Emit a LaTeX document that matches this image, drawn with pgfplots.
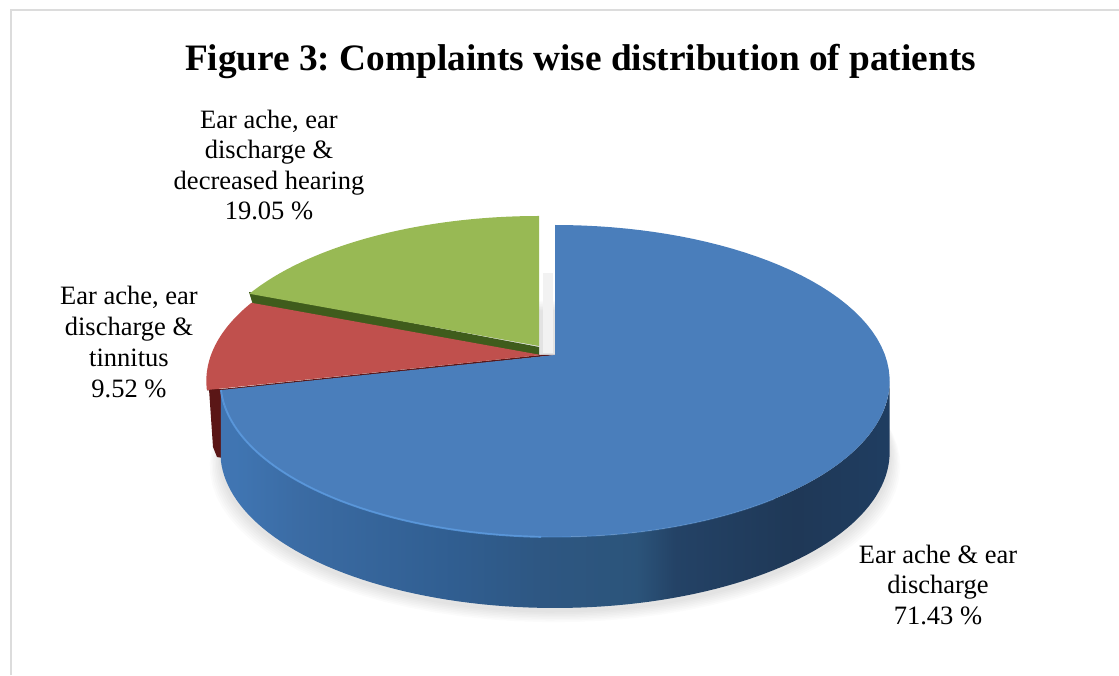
\documentclass[border=0pt]{standalone}
\usepackage{pgfplots}
\pgfplotsset{compat=1.18}
\usepackage{fontspec}
\setmainfont{Liberation Serif}

% Shares of the three complaint groups, in per cent
\def\shareBlue{71.43}
\def\shareRed{9.52}
\def\shareGreen{19.05}

% Slice boundaries, clockwise from twelve o'clock
\pgfmathsetmacro\angA{90}
\pgfmathsetmacro\angB{\angA-3.6*\shareBlue}
\pgfmathsetmacro\angC{\angB-3.6*\shareRed}
\pgfmathsetmacro\angD{\angC-3.6*\shareGreen}

\def\depth{71}
\definecolor{topblue}{HTML}{4A7EBB}
\definecolor{topred}{HTML}{C0504D}
\definecolor{topgreen}{HTML}{98B954}
\definecolor{wallgreen}{HTML}{3F5C1C}
\definecolor{wallred}{HTML}{5A1616}
\definecolor{rimblue}{HTML}{5B9ADF}
\definecolor{framegray}{HTML}{DCDCDC}

% Side of the pie, lit from the left; the path's width spans 25bp to 75bp
\pgfdeclarehorizontalshading{sidewall}{100bp}{
  rgb(0bp)=(0.25,0.46,0.70);
  rgb(26bp)=(0.25,0.46,0.70);
  rgb(31bp)=(0.23,0.42,0.64);
  rgb(42bp)=(0.19,0.37,0.57);
  rgb(49bp)=(0.18,0.34,0.51);
  rgb(56bp)=(0.17,0.33,0.48);
  rgb(59bp)=(0.14,0.26,0.40);
  rgb(68bp)=(0.12,0.22,0.34);
  rgb(75bp)=(0.12,0.24,0.38);
  rgb(100bp)=(0.12,0.24,0.38)
}

% Perspective view of the unit circle: projected x and y about the pie's centre
\pgfplotsset{
  /pgf/declare function={
    px(\a)=330*cos(\a)/(1+sin(\a)/6);
    py(\a)=151.67*sin(\a)/(1+sin(\a)/6);
  }
}

% Top face of a slice: colour, start angle, end angle, shift x, shift y
\newcommand\pieface[5]{
  \addplot[draw=none, fill=#1, no marks, domain=#2:#3, samples=90, variable=\a]
    ({555+#4+px(\a)},{320+#5+py(\a)}) -- (axis cs:{555+#4},{320+#5}) -- cycle;
}
% Outer wall of a slice: drawing options, start angle, end angle, shift x, shift y
\newcommand\piewall[5]{
  \addplot[#1, no marks, domain=0:2, samples=181, variable=\t]
    ({555+#4+px(\t<=1 ? #2+(#3-#2)*\t : #3+(#2-#3)*(\t-1))},
     {320+#5+py(\t<=1 ? #2+(#3-#2)*\t : #3+(#2-#3)*(\t-1))-(\t<=1 ? 0 : \depth)}) -- cycle;
}

\begin{document}
\begin{tikzpicture}
\path[use as bounding box] (0,0) rectangle (1119pt,675pt);
\begin{axis}[
  hide axis, scale only axis, width=1119pt, height=675pt,
  xmin=0, xmax=1119, ymin=0, ymax=675, clip=false,
]
  % Outer frame: only its top and left edges are visible
  \addplot[framegray, line width=2pt, no marks] coordinates {(11,0) (11,664.5) (1119,664.5)};

  % Soft shadow below the pie
  \pgfplotsinvokeforeach{1,...,7}{
    \addplot[draw=none, fill=black, fill opacity=0.016, no marks, domain=-180:180, samples=90, variable=\a]
      ({555+(1+0.0045*#1)*px(\a)},{320-\depth-3+py(\a)-1.6*#1});
  }
  % Faint shadow in the gap next to the green slice
  \addplot[draw=none, fill=black!5, no marks] coordinates {(543,402) (553,402) (553,322) (543,322)} -- cycle;

  % Green slice: cut face, then top
  \addplot[draw=none, fill=wallgreen, no marks] coordinates
    {(253,370) (539,320) (539,328) (249,383)} -- cycle;
  \pieface{topgreen}{\angC}{\angD}{-16}{9}

  % Red slice: wall at its left end, cut face along the blue slice, then top
  \addplot[draw=none, fill=wallred, no marks] coordinates
    {(209,286) (226,286) (228,216) (217,218) (213,228)} -- cycle;
  \addplot[draw=none, fill=wallred, no marks] coordinates
    {(207,284.5) (541,320) (556,320) (222,283)} -- cycle;
  \pieface{topred}{\angB}{\angC}{-14}{0}

  % Blue slice: shaded wall, top and the light rim along its front edge
  \piewall{draw=none, shade, shading=sidewall}{\angB}{-9.6}{0}{0}
  \pieface{topblue}{\angB}{\angA}{0}{0}
  \addplot[rimblue, line width=1.9pt, opacity=0.85, no marks, domain=\angB:-92, samples=60, variable=\a]
    ({555+px(\a)},{320+py(\a)});
  \addplot[rimblue, line width=1.4pt, opacity=0.35, no marks, domain=-92:-55, samples=30, variable=\a]
    ({555+px(\a)},{320+py(\a)});

  % Title and slice labels
  \node[font=\fontsize{37.3}{42}\selectfont\bfseries, anchor=center] at (axis cs:580.5,614) {\frenchspacing Figure 3: Complaints wise distribution of patients};
  \node[font=\fontsize{26.5}{30.3}\selectfont, align=center, anchor=center] at (axis cs:269,510) {Ear ache, ear\\discharge \&\\decreased hearing\\19.05 \%};
  \node[font=\fontsize{26.5}{31}\selectfont, align=center, anchor=center] at (axis cs:129,333) {Ear ache, ear\\discharge \&\\tinnitus\\9.52 \%};
  \node[font=\fontsize{26.5}{30.5}\selectfont, align=center, anchor=center] at (axis cs:938,90.5) {Ear ache \& ear\\discharge\\71.43 \%};
\end{axis}
\end{tikzpicture}
\end{document}
